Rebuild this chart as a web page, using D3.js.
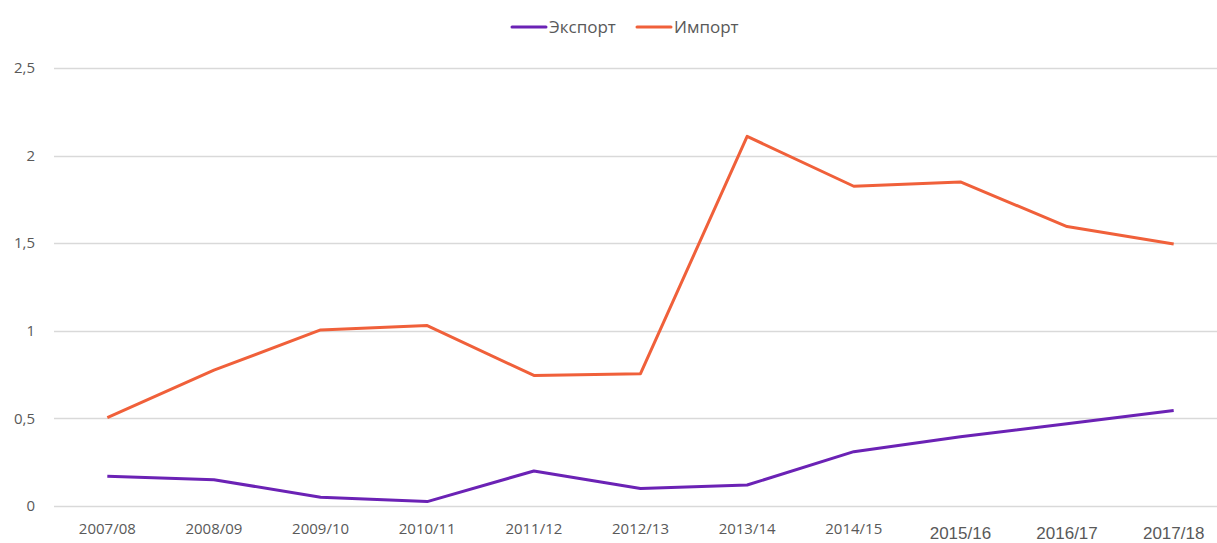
<!DOCTYPE html>
<html>
<head>
<meta charset="utf-8">
<script src="https://cdn.jsdelivr.net/npm/d3@7"></script>
<style>
    body { margin: 0; background: #fff; }
    svg { display: block; }
    .axis-label { fill: #595959; font-family: "Open Sans", "Noto Sans", sans-serif; }
</style>
</head>
<body>
<div id="line-chart"></div>
<script>
// Data
const years = ["2007/08", "2008/09", "2009/10", "2010/11", "2011/12", "2012/13",
               "2013/14", "2014/15", "2015/16", "2016/17", "2017/18"];
const exportValues = [0.17, 0.15, 0.05, 0.025, 0.20, 0.10, 0.12, 0.31, 0.395, 0.47, 0.545];
const importValues = [0.505, 0.775, 1.005, 1.03, 0.745, 0.755, 2.11, 1.825, 1.85, 1.595, 1.495];
const yTicks = [0, 0.5, 1, 1.5, 2, 2.5];
const seriesNames = ["Экспорт", "Импорт"];

function createLineChart() {
    const container = d3.select("#line-chart");
    container.selectAll("*").remove();

    const W = 1217, H = 543;
    const left = 54, right = 1227, top = 68, bottom = 506;

    const svg = container.append("svg")
        .attr("width", W)
        .attr("height", H);

    const xScale = d3.scalePoint()
        .domain(years)
        .range([left, right])
        .padding(0.5);

    const yScale = d3.scaleLinear()
        .domain([0, 2.5])
        .range([bottom, top]);

    // Gridlines
    svg.append("g")
        .selectAll("line")
        .data(yTicks)
        .enter().append("line")
        .attr("x1", left)
        .attr("x2", right)
        .attr("y1", d => Math.round(yScale(d)) + 0.5)
        .attr("y2", d => Math.round(yScale(d)) + 0.5)
        .style("stroke", "#d9d9d9")
        .style("stroke-width", 1.3);

    // Y labels
    svg.append("g")
        .selectAll("text")
        .data(yTicks)
        .enter().append("text")
        .attr("class", "axis-label")
        .attr("x", 35)
        .attr("y", d => yScale(d))
        .attr("dy", "0.35em")
        .style("text-anchor", "end")
        .style("font-size", "15px")
        .text(d => d3.format("")(d).replace(".", ","));

    // X labels (last three rendered in a different font, as in the original)
    svg.append("g")
        .selectAll("text")
        .data(years)
        .enter().append("text")
        .attr("class", "axis-label")
        .attr("x", d => xScale(d))
        .attr("y", (d, i) => i >= 8 ? 539 : 534)
        .style("text-anchor", "middle")
        .style("font-family", (d, i) => i >= 8 ? "'Liberation Sans', Arial, sans-serif" : null)
        .style("font-size", (d, i) => i >= 8 ? "17px" : "15px")
        .text(d => d);

    const lines = [
        { name: seriesNames[0], values: exportValues, color: "#6b22b5" },
        { name: seriesNames[1], values: importValues, color: "#f0603a" }
    ];

    const line = d3.line()
        .x((d, i) => xScale(years[i]))
        .y(d => yScale(d));

    lines.forEach(s => {
        svg.append("path")
            .datum(s.values)
            .attr("d", line)
            .style("fill", "none")
            .style("stroke", s.color)
            .style("stroke-width", 3)
            .style("stroke-linejoin", "round");
    });

    // Legend
    const legendX = [512, 637];
    const legend = svg.selectAll(".legend")
        .data(lines)
        .enter().append("g")
        .attr("class", "legend")
        .attr("transform", (d, i) => `translate(${legendX[i]}, 27)`);

    legend.append("line")
        .attr("x1", 0)
        .attr("x2", 34)
        .style("stroke", d => d.color)
        .style("stroke-width", 3)
        .style("stroke-linecap", "round");

    legend.append("text")
        .attr("class", "axis-label")
        .attr("x", 37)
        .attr("dy", "0.35em")
        .style("font-size", "17px")
        .text(d => d.name);
}

createLineChart();
</script>
</body>
</html>
